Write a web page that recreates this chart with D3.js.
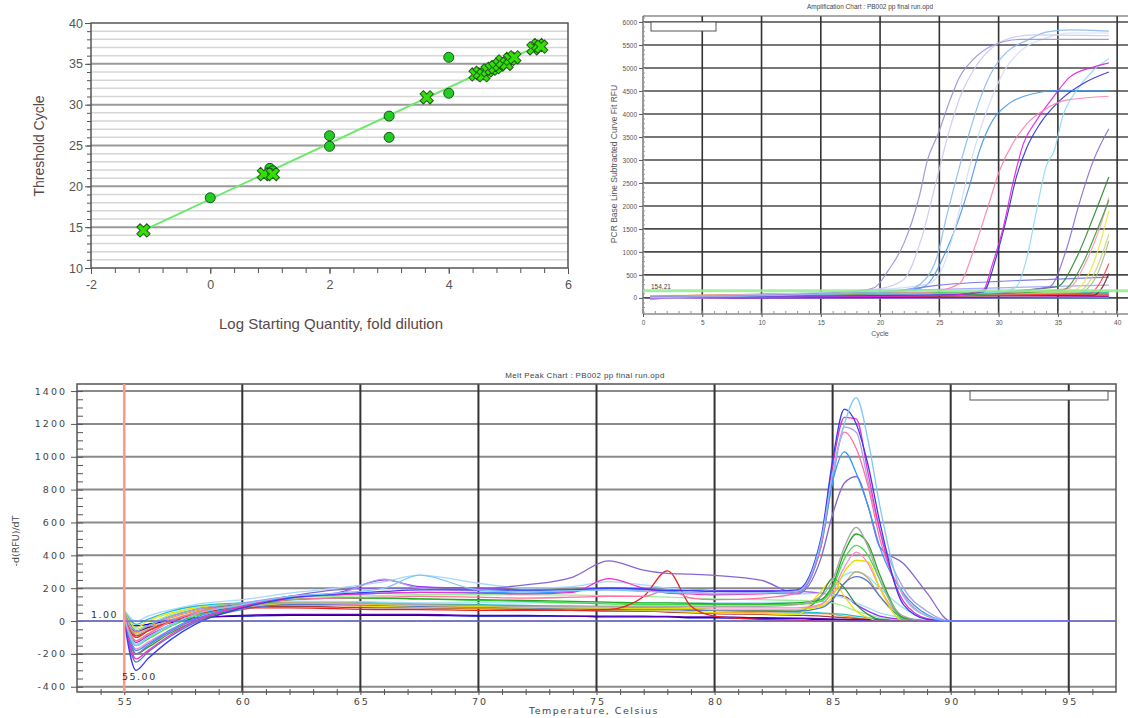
<!DOCTYPE html>
<html>
<head>
<meta charset="utf-8">
<script src="https://cdn.jsdelivr.net/npm/d3@7"></script>
<style>
body { margin: 0; background: #fff; }
svg { display: block; }
</style>
</head>
<body>
<svg id="chart" width="1128" height="718"></svg>
<script>
// ---- standard curve (top left) ----
var stdCircleX = [0, 1.0, 1.05, 1.0, 2, 2, 3, 3, 4, 4, 4.6, 4.9, 5.0];
var stdCircleY = [18.6, 22.2, 21.9, 21.6, 26.2, 24.9, 28.6, 26.0, 35.8, 31.4, 34.0, 35.1, 35.4];
var stdCrossX = [-1.12, 0.9, 1.05, 3.63, 4.45, 4.52, 4.58, 4.65, 4.72, 4.78, 4.85, 4.9, 4.97, 5.03, 5.1, 5.42, 5.5, 5.55];
var stdCrossY = [14.6, 21.5, 21.5, 30.9, 33.7, 33.9, 33.6, 34.2, 34.4, 34.6, 34.9, 35.3, 35.0, 35.6, 35.8, 36.9, 37.3, 37.1];
var fitX = [-1.12, 5.55];
var fitY = [14.6, 37.4];
var stdXTicks = [-2, 0, 2, 4, 6];
var stdYTicks = [10, 15, 20, 25, 30, 35, 40];

// ---- amplification chart (top right) ----
var ampThreshold = 154.21;
var ampXTicks = [0, 5, 10, 15, 20, 25, 30, 35, 40];
var ampYTicks = [0, 500, 1000, 1500, 2000, 2500, 3000, 3500, 4000, 4500, 5000, 5500, 6000];
var ampColors = ["#9a8fd8", "#c8c8f0", "#8ab8f0", "#d0dcf8", "#4a98e8", "#ff80b0", "#e020e0", "#3030d0",
  "#8fd8f5", "#8868d8", "#2a8a2a", "#3c9c3c", "#ff99aa", "#e8e840", "#c8d870", "#a8b890", "#ff4040", "#802020",
  "#6a70e8", "#a0a0ff", "#20b0b0", "#ff8040", "#40c040", "#c03030", "#a000a0", "#3060ff", "#ff40ff", "#00a0e0", "#606060"];
var ampCurves = [
  [[0.6,30],[10,60],[18,150],[19.5,220],[20.7,600],[22,1180],[23.3,2200],[24,3000],[24.9,3570],[25.9,4300],[26.7,4800],[27.8,5170],[29.5,5490],[31.8,5620],[39.3,5620]],
  [[0.6,20],[15,100],[20,200],[22,400],[23.5,1300],[24.8,2600],[25.8,3600],[26.8,4400],[28,5000],[29.5,5450],[31,5650],[33,5720],[39.3,5700]],
  [[0.6,20],[15,80],[22,150],[23.8,400],[24.8,890],[25.6,1760],[26.7,2850],[27.6,3650],[28.4,4300],[29.5,4950],[30.7,5350],[32.4,5600],[34,5780],[36,5830],[39.3,5800]],
  [[0.6,20],[20,180],[24,300],[25.5,800],[26.5,1700],[27.5,2800],[28.5,3700],[29.5,4400],[30.5,4950],[32,5400],[34,5650],[36,5760],[39.3,5760]],
  [[0.6,10],[15,80],[22,150],[23.7,240],[25.6,1040],[26.7,1760],[27.6,2490],[28.4,3210],[29.5,3860],[30.9,4230],[32.9,4440],[35.2,4515],[39.3,4500]],
  [[0.6,40],[15,90],[24,120],[26.7,310],[27.9,1040],[29,1900],[30.1,2780],[31.2,3360],[32.4,3790],[33.8,4080],[35.7,4300],[39.3,4385]],
  [[0.6,0],[15,20],[26,60],[28.7,170],[29.5,750],[30.4,1540],[31.2,2490],[32.1,3360],[33.2,3860],[34.6,4360],[36,4800],[38,5020],[39.3,5110]],
  [[0.6,30],[15,40],[26,70],[28.7,130],[29.8,890],[30.7,1760],[31.5,2630],[32.4,3280],[33.5,3790],[35.2,4300],[37.4,4700],[39.3,4913]],
  [[0.6,-20],[20,60],[30,120],[31.5,240],[32.4,890],[33.2,1900],[34,2850],[34.7,3210],[35.4,3940],[36.6,4515],[38,4950],[39.3,5200]],
  [[0.6,10],[20,60],[30,120],[34.3,240],[35.7,1040],[36.8,2050],[38,2990],[39.3,3680]],
  [[0.6,30],[25,80],[34.9,240],[36.6,890],[38,1760],[39.3,2630]],
  [[0.6,20],[25,60],[35.4,170],[37.1,750],[38.3,1470],[39.3,2124]],
  [[0.6,20],[25,60],[35.8,200],[37.4,800],[38.5,1500],[39.3,2180]],
  [[0.6,40],[20,70],[36.3,170],[38,750],[39.3,1890]],
  [[0.6,50],[20,80],[36.6,130],[38.2,600],[39.3,1384]],
  [[0.6,30],[20,60],[36.8,120],[38.3,500],[39.3,1240]],
  [[0.6,20],[20,40],[37.7,94],[38.6,350],[39.3,750]],
  [[0.6,10],[20,30],[38,58],[38.8,250],[39.3,530]],
  [[0.6,30],[20,120],[25,280],[30,360],[35,410],[39.3,450]],
  [[0.6,10],[20,150],[30,220],[39.3,280]],
  [[0.6,-40],[3,20],[20,90],[39.3,120]],
  [[0.6,20],[5,60],[20,100],[39.3,80]],
  [[0.6,0],[10,80],[25,120],[39.3,150]],
  [[0.6,10],[20,40],[30,60],[39.3,60]],
  [[0.6,0],[25,10],[39.3,30]],
  [[0.6,50],[5,40],[10,60],[20,80],[39.3,90]],
  [[0.6,0],[15,0],[39.3,10]],
  [[0.6,-10],[39.3,0]],
  [[0.6,20],[39.3,70]]
];

// ---- melt peak chart (bottom) ----
var meltTemps = [55, 55.5, 56, 57, 58, 60, 62, 64, 66, 67.5, 70, 72, 74, 75.5, 77, 78, 79, 80, 82, 83.5, 84.5, 85, 85.5, 86, 86.5, 87, 88, 89, 90, 95];
var meltXTicks = [55, 60, 65, 70, 75, 80, 85, 90, 95];
var meltYTicks = [-400, -200, 0, 200, 400, 600, 800, 1000, 1200, 1400];
var meltColors = ["#7ec8f5", "#3b3bf0", "#f030c8", "#ff70a0", "#3399ff", "#a8a0e8", "#8866d0", "#ee2020",
  "#a8a8a8", "#22aa22", "#44dd44", "#e0e000", "#ff88cc", "#5577cc", "#2e8b57", "#f5e000", "#c8a878", "#99ddee",
  "#5a00b0", "#0000cc", "#a04040", "#20c0d0", "#ff9933", "#a8d8ff", "#9933ff", "#99ee99"];
var meltValues = [
  [20, -150, -100, -20, 40, 100, 150, 170, 200, 280, 190, 180, 185, 190, 180, 175, 170, 165, 170, 180, 480, 900, 1200, 1360, 1100, 700, 150, 30, 0, 0],
  [0, -300, -230, -110, -20, 80, 140, 165, 180, 190, 190, 185, 190, 200, 195, 185, 185, 180, 180, 190, 500, 980, 1290, 1200, 950, 600, 100, 10, 0, 0],
  [10, -230, -180, -80, 0, 90, 145, 160, 170, 175, 170, 165, 175, 258, 200, 170, 165, 160, 165, 180, 480, 950, 1240, 1230, 900, 550, 120, 15, 0, 0],
  [30, -120, -80, 0, 50, 100, 130, 140, 145, 150, 145, 140, 145, 150, 150, 190, 140, 130, 140, 170, 460, 900, 1150, 1050, 820, 500, 160, 30, 0, 0],
  [20, -180, -140, -50, 20, 90, 140, 160, 170, 175, 175, 170, 180, 200, 195, 190, 185, 180, 180, 170, 450, 850, 1030, 900, 700, 450, 170, 40, 0, 0],
  [40, -60, -30, 30, 70, 110, 150, 165, 255, 200, 185, 180, 185, 190, 185, 180, 175, 170, 170, 170, 450, 850, 1180, 1150, 850, 550, 200, 60, 0, 0],
  [0, -200, -150, -60, 10, 90, 150, 190, 200, 200, 200, 220, 268, 366, 310, 290, 285, 278, 247, 165, 380, 650, 840, 880, 700, 450, 350, 170, 0, 0],
  [30, -100, -60, 0, 40, 80, 80, 75, 70, 70, 65, 65, 65, 70, 150, 305, 90, 30, 10, 5, 0, 0, 0, 0, 0, 0, 0, 0, 0, 0],
  [50, -80, -50, 10, 50, 90, 110, 110, 105, 100, 95, 90, 90, 90, 90, 90, 90, 90, 90, 100, 150, 250, 450, 570, 450, 250, 30, 0, 0, 0],
  [20, -200, -160, -70, 0, 80, 130, 140, 140, 135, 130, 125, 120, 115, 110, 110, 108, 105, 105, 110, 130, 220, 420, 530, 470, 280, 20, 0, 0, 0],
  [30, -150, -110, -30, 30, 95, 130, 140, 140, 135, 125, 120, 110, 105, 100, 100, 100, 100, 100, 100, 120, 200, 380, 460, 400, 250, 10, 0, 0, 0],
  [40, -100, -60, 0, 40, 85, 110, 110, 100, 95, 90, 85, 80, 80, 75, 75, 75, 70, 70, 70, 90, 150, 300, 370, 360, 200, 0, 0, 0, 0],
  [20, -170, -130, -50, 10, 80, 110, 105, 100, 95, 90, 85, 85, 80, 80, 80, 80, 80, 80, 80, 100, 180, 330, 420, 350, 200, 20, 0, 0, 0],
  [10, -250, -190, -90, -10, 70, 100, 100, 95, 90, 85, 80, 75, 70, 70, 70, 65, 65, 60, 60, 80, 130, 230, 270, 240, 150, 20, 0, 0, 0],
  [50, -60, -30, 30, 70, 100, 110, 105, 100, 100, 95, 90, 85, 80, 80, 80, 75, 70, 65, 60, 150, 260, 200, 100, 40, 10, 0, 0, 0, 0],
  [60, -40, 0, 50, 80, 100, 100, 95, 90, 85, 80, 80, 75, 70, 65, 60, 55, 50, 45, 40, 180, 250, 150, 60, 20, 0, 0, 0, 0, 0],
  [40, -120, -80, 0, 50, 100, 110, 105, 100, 95, 90, 85, 80, 75, 75, 75, 75, 70, 70, 70, 100, 170, 230, 300, 260, 150, 20, 0, 0, 0],
  [30, -140, -100, -20, 40, 100, 120, 120, 115, 110, 110, 110, 110, 110, 110, 110, 110, 110, 110, 110, 130, 200, 280, 300, 270, 200, 80, 10, 0, 0],
  [0, -60, -40, -10, 15, 35, 40, 40, 40, 40, 35, 35, 30, 30, 30, 28, 25, 25, 20, 18, 15, 12, 10, 8, 5, 3, 0, 0, 0, 0],
  [0, -30, -20, 5, 20, 30, 35, 35, 35, 35, 30, 30, 30, 25, 25, 25, 20, 20, 15, 15, 10, 10, 8, 5, 5, 3, 0, 0, 0, 0],
  [40, -90, -60, 0, 50, 90, 90, 85, 80, 80, 75, 70, 65, 60, 60, 55, 50, 45, 40, 35, 30, 25, 20, 15, 10, 5, 0, 0, 0, 0],
  [60, -20, 10, 60, 90, 110, 120, 115, 110, 105, 100, 95, 90, 85, 80, 75, 70, 65, 60, 55, 50, 45, 40, 30, 20, 10, 0, 0, 0, 0],
  [50, -70, -40, 20, 60, 95, 100, 95, 90, 85, 80, 75, 70, 65, 60, 58, 55, 52, 50, 48, 45, 40, 30, 20, 10, 5, 0, 0, 0, 0],
  [70, 0, 30, 70, 100, 130, 170, 200, 240, 280, 230, 200, 210, 240, 220, 200, 190, 180, 170, 165, 170, 160, 140, 110, 80, 50, 20, 5, 0, 0],
  [10, -130, -90, -20, 40, 100, 150, 170, 250, 210, 200, 190, 190, 200, 195, 190, 190, 185, 185, 180, 170, 160, 150, 100, 60, 30, 10, 0, 0, 0],
  [50, -50, -20, 40, 80, 110, 140, 150, 155, 160, 160, 160, 158, 155, 150, 145, 140, 135, 130, 125, 120, 110, 90, 60, 40, 20, 5, 0, 0, 0]
];

var svg = d3.select("#chart");
svg.append("rect").attr("width", 1128).attr("height", 718).attr("fill", "#fff");

function styleAxis(g, color) {
  g.select(".domain").remove();
  g.selectAll(".tick line").attr("stroke", color);
}

// ================= standard curve =================
var sx = d3.scaleLinear().domain([-2, 6]).range([91, 568]);
var sy = d3.scaleLinear().domain([10, 40]).range([268, 23]);
var p1 = svg.append("g");

p1.selectAll(".hgrid").data(d3.range(11, 40)).enter().append("line")
  .attr("x1", sx(-2)).attr("x2", sx(6))
  .attr("y1", d => sy(d)).attr("y2", d => sy(d))
  .attr("stroke", d => d % 5 == 0 ? "#9a9a9a" : "#d6d6d6")
  .attr("stroke-width", d => d % 5 == 0 ? 2 : 1.5);

p1.append("rect")
  .attr("x", sx(-2)).attr("y", sy(40))
  .attr("width", sx(6) - sx(-2)).attr("height", sy(10) - sy(40))
  .attr("fill", "none").attr("stroke", "#555").attr("stroke-width", 1.5);

var syMinor = p1.append("g").attr("transform", "translate(" + sx(-2) + ",0)")
  .call(d3.axisLeft(sy).tickValues(d3.range(10, 41)).tickSize(4).tickFormat(""));
styleAxis(syMinor, "#555");
var syMajor = p1.append("g").attr("transform", "translate(" + sx(-2) + ",0)")
  .call(d3.axisLeft(sy).tickValues(stdYTicks).tickSize(6).tickPadding(2));
styleAxis(syMajor, "#555");
syMajor.selectAll("text").attr("font-family", "Liberation Sans, Arial, sans-serif")
  .attr("font-size", 12.5).attr("fill", "#555");

var sxMinor = p1.append("g").attr("transform", "translate(0," + sy(10) + ")")
  .call(d3.axisBottom(sx).tickValues(d3.range(-2, 6.01, 0.4)).tickSize(5).tickFormat(""));
styleAxis(sxMinor, "#555");
var sxMajor = p1.append("g").attr("transform", "translate(0," + sy(10) + ")")
  .call(d3.axisBottom(sx).tickValues(stdXTicks).tickSize(6).tickPadding(6)
    .tickFormat(d => String(d)));
styleAxis(sxMajor, "#555");
sxMajor.selectAll("text").attr("font-family", "Liberation Sans, Arial, sans-serif")
  .attr("font-size", 12.5).attr("fill", "#555");

p1.append("line")
  .attr("x1", sx(fitX[0])).attr("y1", sy(fitY[0]))
  .attr("x2", sx(fitX[1])).attr("y2", sy(fitY[1]))
  .attr("stroke", "#6ee86e").attr("stroke-width", 2);

p1.selectAll(".pt").data(d3.range(stdCircleX.length)).enter().append("circle")
  .attr("cx", i => sx(stdCircleX[i])).attr("cy", i => sy(stdCircleY[i]))
  .attr("r", 5).attr("fill", "#22cc22").attr("stroke", "#155515").attr("stroke-width", 1);

var crossSym = d3.symbol().type(d3.symbolCross).size(110);
p1.selectAll(".cx").data(d3.range(stdCrossX.length)).enter().append("path")
  .attr("d", crossSym)
  .attr("transform", i => "translate(" + sx(stdCrossX[i]) + "," + sy(stdCrossY[i]) + ") rotate(45)")
  .attr("fill", "#33e000").attr("stroke", "#1f5a1f").attr("stroke-width", 1);

p1.append("text").attr("x", 331).attr("y", 329).attr("text-anchor", "middle")
  .attr("font-family", "Liberation Sans, Arial, sans-serif").attr("font-size", 15)
  .attr("fill", "#5a4848").text("Log Starting Quantity, fold dilution");
p1.append("text").attr("transform", "translate(44,146) rotate(-90)").attr("text-anchor", "middle")
  .attr("font-family", "Liberation Sans, Arial, sans-serif").attr("font-size", 14)
  .attr("fill", "#5a4848").text("Threshold Cycle");

// ================= amplification chart =================
var ax = d3.scaleLinear().domain([0, 41]).range([643, 1129]);
var ay = d3.scaleLinear().domain([-350, 6130]).range([314, 16]);
var p2 = svg.append("g");
var smallFont = "Liberation Sans, Arial, sans-serif";

p2.append("text").attr("x", 870).attr("y", 9).attr("text-anchor", "middle")
  .attr("font-family", smallFont).attr("font-size", 6.5).attr("fill", "#444")
  .text("Amplification Chart : PB002 pp final run.opd");

p2.selectAll(".ahg").data(ampYTicks).enter().append("line")
  .attr("x1", ax(0)).attr("x2", 1128)
  .attr("y1", d => ay(d)).attr("y2", d => ay(d))
  .attr("stroke", "#4a4a4a").attr("stroke-width", 1.6);
p2.selectAll(".avg").data(ampXTicks.slice(1)).enter().append("line")
  .attr("x1", d => ax(d)).attr("x2", d => ax(d))
  .attr("y1", ay.range()[1]).attr("y2", ay.range()[0])
  .attr("stroke", "#333").attr("stroke-width", 1.6);
p2.append("line").attr("x1", ax(0)).attr("x2", 1128).attr("y1", ay.range()[1]).attr("y2", ay.range()[1])
  .attr("stroke", "#555").attr("stroke-width", 1.2);
p2.append("line").attr("x1", ax(0)).attr("x2", 1128).attr("y1", ay.range()[0]).attr("y2", ay.range()[0])
  .attr("stroke", "#555").attr("stroke-width", 1.2);
p2.append("line").attr("x1", ax(0)).attr("x2", ax(0)).attr("y1", ay.range()[1]).attr("y2", ay.range()[0])
  .attr("stroke", "#555").attr("stroke-width", 1.2);

var ayMinor = p2.append("g").attr("transform", "translate(" + ax(0) + ",0)")
  .call(d3.axisRight(ay).tickValues(d3.range(-300, 6101, 100)).tickSize(2).tickFormat(""));
styleAxis(ayMinor, "#999");
var ayMajor = p2.append("g").attr("transform", "translate(" + ax(0) + ",0)")
  .call(d3.axisLeft(ay).tickValues(ampYTicks).tickSize(4).tickPadding(2).tickFormat(d => String(d)));
styleAxis(ayMajor, "#555");
ayMajor.selectAll("text").attr("font-family", smallFont).attr("font-size", 6.5).attr("fill", "#555");

var axMinor = p2.append("g").attr("transform", "translate(0," + ay.range()[0] + ")")
  .call(d3.axisTop(ax).tickValues(d3.range(0, 41, 1)).tickSize(3).tickFormat(""));
styleAxis(axMinor, "#999");
var axMajor = p2.append("g").attr("transform", "translate(0," + ay.range()[0] + ")")
  .call(d3.axisBottom(ax).tickValues(ampXTicks).tickSize(3).tickPadding(3));
styleAxis(axMajor, "#555");
axMajor.selectAll("text").attr("font-family", smallFont).attr("font-size", 6.5).attr("fill", "#555");

p2.append("text").attr("x", 880).attr("y", 336).attr("text-anchor", "middle")
  .attr("font-family", smallFont).attr("font-size", 7).attr("fill", "#555").text("Cycle");
p2.append("text").attr("transform", "translate(617,164) rotate(-90)").attr("text-anchor", "middle")
  .attr("font-family", smallFont).attr("font-size", 8.5).attr("fill", "#555")
  .text("PCR Base Line Subtracted Curve Fit RFU");

p2.append("rect").attr("x", 651).attr("y", 22).attr("width", 65).attr("height", 9)
  .attr("fill", "#fff").attr("stroke", "#555").attr("stroke-width", 1);

var ampLine = d3.line().x(d => ax(d[0])).y(d => ay(d[1])).curve(d3.curveMonotoneX);
var ampOrder = d3.range(ampCurves.length).reverse();
p2.selectAll(".acurve").data(ampOrder).enter().append("path")
  .attr("d", i => ampLine(ampCurves[i]))
  .attr("fill", "none").attr("stroke", i => ampColors[i]).attr("stroke-width", 1.2)
  .attr("opacity", 0.9);

p2.append("line").attr("x1", ax(0)).attr("x2", 1128)
  .attr("y1", ay(ampThreshold)).attr("y2", ay(ampThreshold))
  .attr("stroke", "#90ee90").attr("stroke-width", 3).attr("opacity", 0.85);
p2.append("text").attr("x", 651).attr("y", 289)
  .attr("font-family", smallFont).attr("font-size", 6.5).attr("fill", "#444")
  .text(ampThreshold.toFixed(2));

// ================= melt peak chart =================
var mx = d3.scaleLinear().domain([53, 97]).range([77, 1116]);
var my = d3.scaleLinear().domain([-432, 1443]).range([692, 384]);
var p3 = svg.append("g");
var meltFont = "DejaVu Sans, Verdana, sans-serif";

p3.append("text").attr("x", 585).attr("y", 378).attr("text-anchor", "middle")
  .attr("font-family", smallFont).attr("font-size", 8).attr("letter-spacing", 0.35).attr("fill", "#444")
  .text("Melt Peak Chart : PB002 pp final run.opd");

p3.selectAll(".mhg").data(meltYTicks).enter().append("line")
  .attr("x1", mx(53)).attr("x2", mx(97))
  .attr("y1", d => my(d)).attr("y2", d => my(d))
  .attr("stroke", "#8a8a8a").attr("stroke-width", 2);
p3.selectAll(".mvg").data(meltXTicks.slice(1)).enter().append("line")
  .attr("x1", d => mx(d)).attr("x2", d => mx(d))
  .attr("y1", my.range()[1]).attr("y2", my.range()[0])
  .attr("stroke", "#333").attr("stroke-width", 2);
p3.append("rect").attr("x", mx(53)).attr("y", my.range()[1])
  .attr("width", mx(97) - mx(53)).attr("height", my.range()[0] - my.range()[1])
  .attr("fill", "none").attr("stroke", "#555").attr("stroke-width", 1.5);

var myMinor = p3.append("g").attr("transform", "translate(" + mx(53) + ",0)")
  .call(d3.axisRight(my).tickValues(d3.range(-400, 1401, 50)).tickSize(6).tickFormat(""));
styleAxis(myMinor, "#555");
var myMajor = p3.append("g").attr("transform", "translate(" + mx(53) + ",0)")
  .call(d3.axisLeft(my).tickValues(meltYTicks).tickSize(6).tickPadding(4).tickFormat(d => String(d)));
styleAxis(myMajor, "#555");
myMajor.selectAll("text").attr("font-family", meltFont).attr("font-size", 9.5)
  .attr("letter-spacing", 2).attr("fill", "#444");

var mxMinor = p3.append("g").attr("transform", "translate(0," + (my.range()[0] - 3) + ")")
  .call(d3.axisBottom(mx).tickValues(d3.range(54, 97, 1)).tickSize(6).tickFormat(""));
styleAxis(mxMinor, "#555");
var mxMajor = p3.append("g").attr("transform", "translate(0," + my.range()[0] + ")")
  .call(d3.axisBottom(mx).tickValues(meltXTicks).tickSize(0).tickPadding(6));
styleAxis(mxMajor, "#555");
mxMajor.selectAll("text").attr("font-family", meltFont).attr("font-size", 9.5)
  .attr("letter-spacing", 2).attr("dx", 1).attr("fill", "#444");

p3.append("text").attr("x", 594).attr("y", 714).attr("text-anchor", "middle")
  .attr("font-family", meltFont).attr("font-size", 9.5).attr("letter-spacing", 1.5).attr("fill", "#444")
  .text("Temperature, Celsius");
p3.append("text").attr("transform", "translate(19,541) rotate(-90)").attr("text-anchor", "middle")
  .attr("font-family", meltFont).attr("font-size", 9.5).attr("fill", "#444")
  .text("-d(RFU)/dT");

p3.append("rect").attr("x", 970).attr("y", 391).attr("width", 138).attr("height", 9)
  .attr("fill", "#fff").attr("stroke", "#555").attr("stroke-width", 1);

var meltLine = d3.line().x((d, i) => mx(meltTemps[i])).y(d => my(d)).curve(d3.curveMonotoneX);
p3.selectAll(".mcurve").data(d3.range(meltValues.length).reverse()).enter().append("path")
  .attr("d", i => meltLine(meltValues[i]))
  .attr("fill", "none").attr("stroke", i => meltColors[i]).attr("stroke-width", 1.3);

p3.append("line").attr("x1", mx(53)).attr("x2", mx(97)).attr("y1", my(0)).attr("y2", my(0))
  .attr("stroke", "#6a6aff").attr("stroke-width", 1.2);
p3.append("line").attr("x1", mx(55)).attr("x2", mx(55))
  .attr("y1", my.range()[1]).attr("y2", my.range()[0])
  .attr("stroke", "#ff9a8a").attr("stroke-width", 2.5);

p3.append("text").attr("x", 91).attr("y", 618)
  .attr("font-family", meltFont).attr("font-size", 9.5).attr("letter-spacing", 1.5).attr("fill", "#333")
  .text("1.00");
p3.append("text").attr("x", 122).attr("y", 680)
  .attr("font-family", meltFont).attr("font-size", 9.5).attr("letter-spacing", 1.5).attr("fill", "#333")
  .text("55.00");
</script>
</body>
</html>
